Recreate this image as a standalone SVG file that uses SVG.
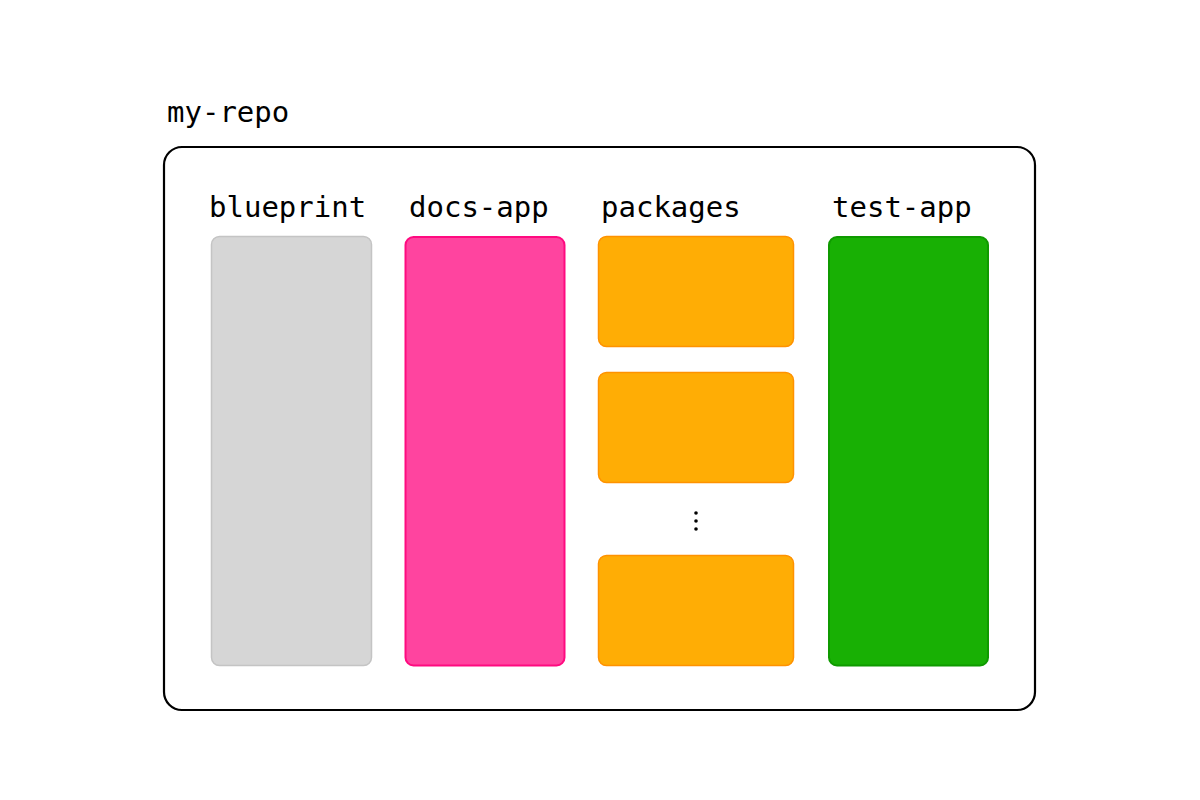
<svg xmlns="http://www.w3.org/2000/svg" width="1200" height="800" viewBox="0 0 1200 800">
<style>
.lbl{font-family:"DejaVu Sans Mono","Liberation Mono",monospace;font-size:29px;fill:#000}
.gray{fill:#d6d6d6;stroke:#c4c4c4;stroke-width:1.5}
.pink{fill:#ff449f;stroke:#ff0a80;stroke-width:2}
.orange{fill:#ffad05;stroke:#ff9200;stroke-width:1.5}
.green{fill:#18b004;stroke:#0f9a00;stroke-width:2}
</style>
<rect width="1200" height="800" fill="#fff"/>
<g id="my-repo">
<text class="lbl" x="167" y="122">my-repo</text>
<rect x="164" y="147" width="871" height="563" rx="18" fill="#fff" stroke="#000" stroke-width="2.2"/>
</g>
<g id="blueprint">
<text class="lbl" x="209" y="217">blueprint</text>
<rect class="gray" x="211.5" y="236.5" width="160" height="429" rx="8"/>
</g>
<g id="docs-app">
<text class="lbl" x="409" y="217">docs-app</text>
<rect class="pink" x="405.5" y="237" width="159" height="428.5" rx="8"/>
</g>
<g id="packages">
<text class="lbl" x="601" y="217">packages</text>
<rect class="orange" x="598.5" y="236.5" width="195" height="110" rx="8"/>
<rect class="orange" x="598.5" y="372.5" width="195" height="110" rx="8"/>
<circle cx="696" cy="513" r="1.8" fill="#000"/>
<circle cx="696" cy="521" r="1.8" fill="#000"/>
<circle cx="696" cy="529" r="1.8" fill="#000"/>
<rect class="orange" x="598.5" y="555.5" width="195" height="110" rx="8"/>
</g>
<g id="test-app">
<text class="lbl" x="832" y="217">test-app</text>
<rect class="green" x="829" y="237" width="159" height="428.5" rx="8"/>
</g>
<g id="connectors"></g>
</svg>
